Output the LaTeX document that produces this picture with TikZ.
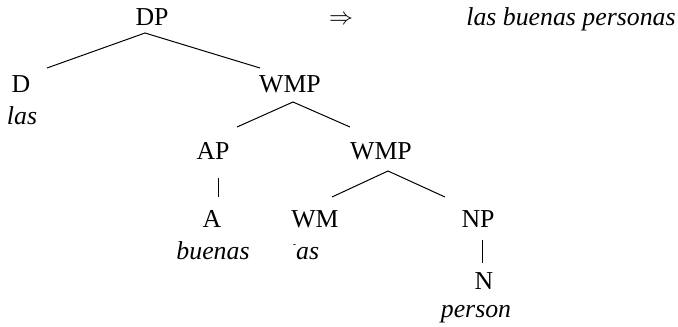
\documentclass[tikz,border=0pt]{standalone}
\usepackage{fontspec}
\setmainfont{LiberationSerif}[Extension=.ttf, UprightFont=*-Regular,
  ItalicFont=*-Italic, BoldFont=*-Bold, BoldItalicFont=*-BoldItalic]
\usetikzlibrary{positioning}

\begin{document}
\fontsize{12.9}{15}\selectfont
\begin{tikzpicture}[
    x=0.5pt, y=-0.5pt,
    every node/.style={inner sep=0pt, anchor=base},
    word/.style={font=\itshape},
  ]

  % Frame
  \useasboundingbox (0,0) rectangle (678,326);

  % Category labels
  \node (dp)   at (152,26)  {DP};
  \node (d)    at (21,92)   {D};
  \node (wmp)  at (290,92)  {WMP};
  \node (ap)   at (213,159) {AP};
  \node (wmpb) at (381,159) {WMP};
  \node (a)    at (212,227) {A};
  \node (wm)   at (315,227) {WM};
  \node (np)   at (478,227) {NP};
  \node (n)    at (484,289) {N};

  % Words
  \node[word] (las)    at (22,124)  {las};
  \node[word] (buenas) at (213,259) {buenas};
  \node[word] (as)     at (306,259)
    {\raisebox{6pt}{\fontsize{5}{5}\selectfont\upshape -}as};
  \node[word] (person) at (476,317) {person};

  % Result
  \node (yields) at (341,25) {$\Rightarrow$};
  \node[word] (phrase) at (571,26) {las buenas personas};

  % Branch style
  \tikzset{
    branch/.style={line width=0.5pt},
  }

  % Branches
  \draw[branch] ([shift={(26,-24)}]d.base) -- ([shift={(-7,7)}]dp.base)
    -- ([shift={(-30,-24)}]wmp.base);
  \draw[branch] ([shift={(24,-32)}]ap.base) -- ([shift={(3,10)}]wmp.base)
    -- ([shift={(-31,-32)}]wmpb.base);
  \draw[branch] ([shift={(5,19)}]ap.base) -- ([shift={(6,-30)}]a.base);
  \draw[branch] ([shift={(17,-30)}]wm.base) -- ([shift={(7,12)}]wmpb.base)
    -- ([shift={(-33,-30)}]np.base);
  \draw[branch] ([shift={(4,13)}]np.base) -- ([shift={(-2,-26)}]n.base);

\end{tikzpicture}
\end{document}
